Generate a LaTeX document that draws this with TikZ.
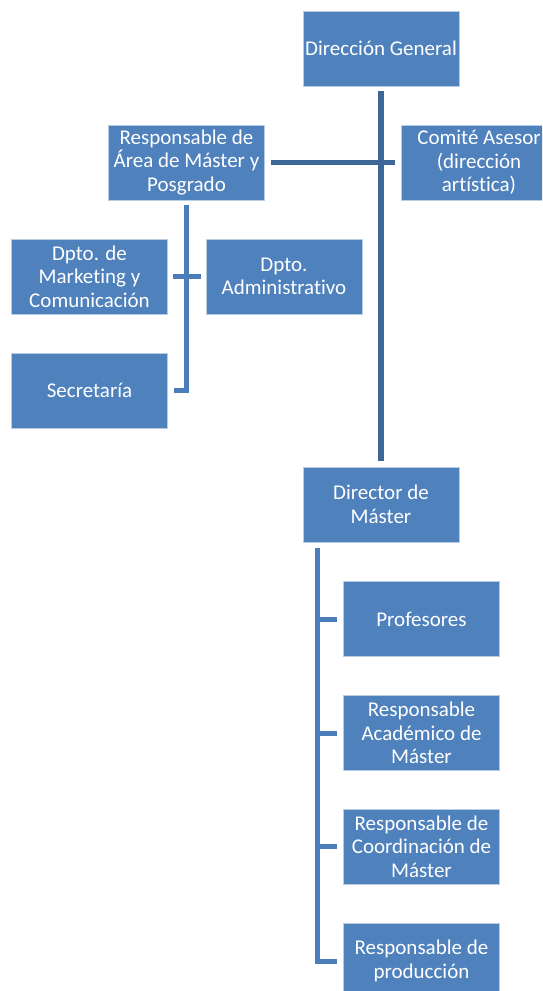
\documentclass[tikz,border=0pt]{standalone}
\usepackage{fontspec}
\setmainfont[Ligatures={NoCommon,NoRare,NoContextual}]{Carlito}
\usepackage{tikz}
\usetikzlibrary{positioning}
\definecolor{boxblue}{HTML}{4F81BD}
\definecolor{boxedge}{HTML}{B9CDE5}
\definecolor{topline}{HTML}{3D6699}
\definecolor{subline}{HTML}{4A7DBA}

\begin{document}
\begin{tikzpicture}[x=1pt,y=-1pt]
 \tikzset{unit/.style={rectangle,fill=boxblue,draw=boxedge,line width=0.8pt,
   minimum width=156pt,minimum height=75pt,inner sep=1pt,text=white,align=center,
   font=\fontsize{21}{23.5}\selectfont},
   toplink/.style={draw=topline,line width=5.5pt},
   sublink/.style={draw=subline,line width=5pt}}
 \useasboundingbox (0,0) rectangle (542,991);
 \clip (0,0) rectangle (542,991);

 \node[unit] (DG) at (381,48.5) {Dirección General};
 \node[unit] (RA) at (186.5,162.5) {Responsable de\\Área de Máster y\\Posgrado};
 \node[unit] (CA) at (479,162.5) {Comité Asesor\\(dirección\\artística)};
 \node[unit] (MK) at (89.5,276.5) {Dpto. de\\Marketing y\\Comunicación};
 \node[unit] (AD) at (284,276.5) {Dpto.\\Administrativo};
 \node[unit] (SE) at (89.5,390.5) {Secretaría};
 \node[unit] (DM) at (381,504.5) {Director de\\Máster};
 \node[unit] (PR) at (421.5,619) {Profesores};
 \node[unit] (AC) at (421.5,733) {Responsable\\Académico de\\Máster};
 \node[unit] (CO) at (421.5,846.5) {Responsable de\\Coordinación de\\Máster};
 \node[unit] (PD) at (421.5,961) {Responsable de\\producción};

 \coordinate (dm-top) at (317,548);

 \draw[toplink] ([yshift=-5pt]DG.south) -- ([yshift=6pt]DM.north);
 \draw[toplink] ([xshift=6pt]RA.east) -- ([xshift=-6pt]CA.west);
 \draw[sublink] ([yshift=-5pt]RA.south) |- ([xshift=6pt]SE.east);
 \draw[sublink] ([xshift=5pt]MK.east) -- ([xshift=-5pt]AD.west);
 \draw[sublink] (dm-top) |- ([xshift=-6pt]PD.west);
 \draw[sublink] (dm-top |- PR.west) -- ([xshift=-6pt]PR.west);
 \draw[sublink] (dm-top |- AC.west) -- ([xshift=-6pt]AC.west);
 \draw[sublink] (dm-top |- CO.west) -- ([xshift=-6pt]CO.west);
\end{tikzpicture}
\end{document}
